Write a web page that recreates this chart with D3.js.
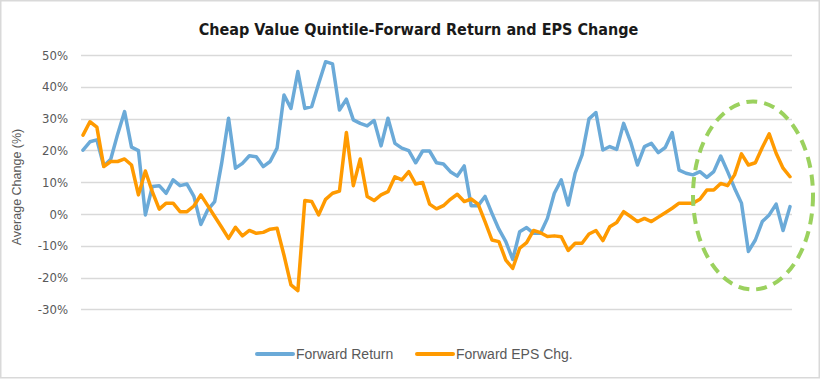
<!DOCTYPE html>
<html><head><meta charset="utf-8">
<script src="https://cdn.jsdelivr.net/npm/d3@7/dist/d3.min.js"></script>
<style>body{margin:0;background:#fff}svg{display:block}</style>
</head><body>
<script>
const title = "Cheap Value Quintile-Forward Return and EPS Change";
const yLabel = "Average Change (%)";
const seriesNames = ["Forward Return", "Forward EPS Chg."];
const yTicks = [-30, -20, -10, 0, 10, 20, 30, 40, 50];
const forwardReturn = [20.1,22.7,23.3,15.1,17.2,25.1,32.2,21.0,19.9,-0.3,8.6,8.9,6.5,10.7,8.9,9.4,5.5,-3.3,1.3,3.9,15.9,30.1,14.4,15.9,18.3,18.0,14.9,16.5,20.7,37.4,33.2,44.8,33.2,33.8,41.0,47.9,47.2,32.7,36.1,29.6,28.5,27.7,29.4,21.4,30.1,22.2,20.7,19.9,16.1,19.8,19.8,16.1,15.7,13.3,11.9,15.1,2.6,2.6,5.5,0.2,-4.8,-8.7,-14.3,-5.6,-4.3,-6.1,-6.1,-1.4,6.5,10.7,2.8,12.8,18.6,29.9,31.9,20.1,21.2,20.3,28.5,22.7,15.4,21.2,22.2,19.3,20.9,25.6,13.8,12.8,12.3,13.3,11.5,13.3,18.2,13.3,8.1,3.4,-11.8,-8.2,-2.4,-0.3,3.1,-5.2,2.3];
const forwardEPS = [24.8,29.0,27.3,14.9,16.5,16.5,17.3,15.4,6.0,13.5,7.0,1.5,3.4,3.4,0.7,0.7,2.5,6.0,2.6,-0.8,-4.2,-7.7,-4.2,-6.9,-5.2,-6.1,-5.8,-4.8,-4.5,-13.0,-22.3,-24.1,4.2,3.9,-0.3,4.6,6.5,7.2,25.6,8.9,17.3,5.5,4.2,6.0,7.0,11.7,10.7,13.3,9.4,9.9,3.1,1.6,2.6,4.6,6.2,3.9,4.7,3.1,-2.4,-8.2,-8.7,-14.5,-17.1,-10.8,-9.0,-5.2,-5.9,-7.1,-6.9,-7.2,-11.5,-9.2,-9.2,-6.3,-5.2,-8.4,-4.0,-2.7,0.7,-0.8,-2.4,-1.4,-2.4,-1.0,0.4,1.8,3.4,3.4,3.4,4.6,7.5,7.5,9.6,8.9,12.3,18.9,15.4,16.1,20.9,25.2,19.1,14.4,11.7];
const categories = d3.range(forwardReturn.length);
const colors = ["#6BAAD8", "#FF9A00"];

const W = 821, H = 380;
const svg = d3.select("body").append("svg").attr("width", W).attr("height", H);
svg.append("rect").attr("x", 0.75).attr("y", 0.75).attr("width", W - 2.5).attr("height", H - 3)
  .attr("fill", "#fff").attr("stroke", "#d9d9d9").attr("stroke-width", 1.5);

const x = d3.scalePoint().domain(categories).range([83, 790]);
const y = d3.scaleLinear().domain([-30, 50]).range([309.3, 55]);

// gridlines
svg.append("g").selectAll("line").data(yTicks).join("line")
  .attr("x1", 81).attr("x2", 792)
  .attr("y1", d => Math.round(y(d)) + 0.5).attr("y2", d => Math.round(y(d)) + 0.5)
  .attr("stroke", "#d9d9d9").attr("stroke-width", 1.3);

// y axis labels
const yAxis = d3.axisLeft(y).tickValues(yTicks).tickFormat(d => d + "%").tickSize(0).tickPadding(0);
const ga = svg.append("g").attr("transform", "translate(68,0)").call(yAxis);
ga.select(".domain").remove();
ga.selectAll("text").attr("fill", "#595959").style("font-family", "'Liberation Sans Narrow','DejaVu Sans Condensed',Arial,sans-serif").style("font-size", "13px");

svg.append("text").attr("transform", "translate(21,187) rotate(-90)").attr("text-anchor", "middle")
  .attr("fill", "#595959").style("font-family", "'Liberation Sans',Arial,sans-serif").style("font-size", "12.5px")
  .text(yLabel);

// title
svg.append("text").attr("x", 418.5).attr("y", 35).attr("text-anchor", "middle")
  .attr("fill", "#1a1a1a").style("font-family", "'Liberation Sans Narrow','DejaVu Sans Condensed',Arial,sans-serif")
  .style("font-weight", "bold").style("font-size", "16px").text(title);

// lines
const line = d3.line().x((d, i) => x(categories[i])).y(d => y(d));
[forwardReturn, forwardEPS].forEach((s, k) => {
  svg.append("path").attr("d", line(s)).attr("fill", "none").attr("stroke", colors[k])
    .attr("stroke-width", 3.5).attr("stroke-linejoin", "round").attr("stroke-linecap", "round");
});

// highlight ellipse
svg.append("ellipse").attr("cx", 753).attr("cy", 195.5).attr("rx", 60).attr("ry", 94)
  .attr("fill", "none").attr("stroke", "#9BD15E").attr("stroke-width", 4).attr("stroke-dasharray", "11,7");

// legend
const legendItems = [{name: seriesNames[0], x: 257}, {name: seriesNames[1], x: 417}];
legendItems.forEach((it, k) => {
  svg.append("line").attr("x1", it.x).attr("x2", it.x + 36).attr("y1", 354).attr("y2", 354)
    .attr("stroke", colors[k]).attr("stroke-width", 4).attr("stroke-linecap", "round");
  svg.append("text").attr("x", it.x + 39).attr("y", 358.5).attr("fill", "#595959")
    .style("font-family", "'Liberation Sans',Arial,sans-serif").style("font-size", "14px").text(it.name);
});
</script>
</body></html>
